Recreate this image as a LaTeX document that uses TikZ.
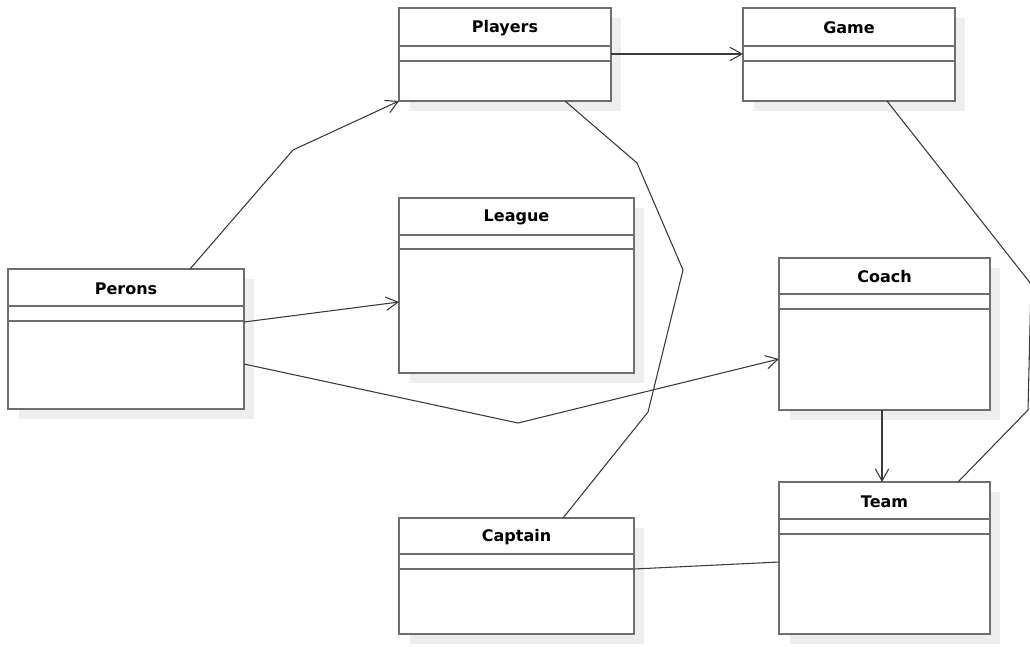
\documentclass[tikz,border=0pt]{standalone}
\usepackage{fontspec}
\setmainfont{DejaVu Sans}
\usetikzlibrary{arrows.meta,calc}
\definecolor{boxgray}{HTML}{6E6E6E}
\definecolor{linegray}{HTML}{3A3A3A}
\definecolor{shadegray}{HTML}{EEEEEE}
\tikzset{
  classbox/.style={draw=boxgray, line width=1.5pt, fill=white, inner sep=0pt, outer sep=0pt},
  classsep/.style={draw=boxgray, line width=1.5pt},
  classshade/.style={fill=shadegray},
  classtitle/.style={font=\bfseries\fontsize{12}{14}\selectfont, inner sep=0pt},
  assoc/.style={draw=linegray, line width=0.8pt, line join=round},
  nav/.style={assoc, -{Straight Barb[length=9pt,width=10pt,line width=0.8pt]}}
}
\newcommand\umlclass[8]{%
  \fill[classshade] (#2+11,#3+10) rectangle (#4+10,#5+10);
  \node[classbox, anchor=north west, minimum width={(#4-#2)*0.75pt}, minimum height={(#5-#3)*0.75pt}] (#1) at (#2,#3) {};
  \draw[classsep] (#2,#6) -- (#4,#6) (#2,#7) -- (#4,#7);
  \node[classtitle] (#1title) at ({(#2+#4)/2},{(#3+#6)/2+1}) {#8};
}
\begin{document}
\begin{tikzpicture}[x=0.75pt,y=-0.75pt]
\useasboundingbox (0,0) rectangle (1030,646);
\fill[white] (0,0) rectangle (1030,646);

\umlclass{perons}{8}{269}{244}{409}{306}{321}{Perons}
\umlclass{players}{399}{8}{611}{101}{46}{61}{Players}
\umlclass{game}{743}{8}{955}{101}{46}{61}{Game}
\umlclass{league}{399}{198}{634}{373}{235}{249}{League}
\umlclass{coach}{779}{258}{990}{410}{294}{309}{Coach}
\umlclass{team}{779}{482}{990}{634}{519}{534}{Team}
\umlclass{captain}{399}{518}{634}{634}{554}{569}{Captain}

% Perons -> Players
\draw[nav] ($(perons.north west)+(182,0)$) -- (293,150) -- (players.south west);
% Perons -> League
\draw[nav] ($(perons.north east)+(0,53)$) -- ($(league.north west)+(0,104)$);
% Perons -> Coach
\draw[nav] ($(perons.north east)+(0,95)$) -- (518,423) -- ($(coach.north west)+(0,101)$);
% Players -> Game
\draw[nav] ($(players.north east)+(0,46)$) -- ($(game.north west)+(0,46)$);
% Players -- Captain
\draw[assoc] ($(players.south west)+(166,0)$) -- (637,163) -- (683,270) -- (648,412) -- ($(captain.north west)+(164,0)$);
% Game -- Team
\draw[assoc] ($(game.south west)+(144,0)$) -- (1031,284) -- (1028,410) -- ($(team.north west)+(179,0)$);
% Coach -> Team
\draw[nav] ($(coach.south west)+(103,0)$) -- ($(team.north west)+(103,0)$);
% Captain -- Team
\draw[assoc] ($(captain.north east)+(0,51)$) -- ($(team.north west)+(0,80)$);
\end{tikzpicture}
\end{document}
